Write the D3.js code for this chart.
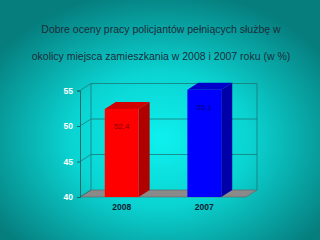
<!DOCTYPE html>
<html>
<head>
<meta charset="utf-8">
<script src="https://cdn.jsdelivr.net/npm/d3@7"></script>
<style>
  body { margin: 0; background: #008080; }
  svg { display: block; font-family: "Liberation Sans", Arial, sans-serif; }
</style>
</head>
<body>
<svg></svg>
<script>
var titleLines = ["Dobre oceny pracy policjantów pełniących służbę w",
  "okolicy miejsca zamieszkania w 2008 i 2007 roku (w %)"];
var categories = ["2008", "2007"];
var values = [52.4, 55.1];
var valueLabels = ["52,4", "55,1"];
var yTicks = [40, 45, 50, 55];
var frontColors = ["#ff0000", "#0000ff"];
var sideColors = ["#b00000", "#0000a8"];
var topColors = ["#d00000", "#0000c8"];
var labelColors = ["#880000", "#000088"];

var width = 320, height = 240;
var dx = 11, dy = -7;

var svg = d3.select("svg").attr("width", width).attr("height", height);

var defs = svg.append("defs");
var grad = defs.append("radialGradient").attr("id", "bg")
  .attr("cx", "50%").attr("cy", "58%").attr("r", "62%");
grad.append("stop").attr("offset", "0%").attr("stop-color", "#0ef0ee");
grad.append("stop").attr("offset", "45%").attr("stop-color", "#0ad4d2");
grad.append("stop").attr("offset", "100%").attr("stop-color", "#067e7e");
svg.append("rect").attr("width", width).attr("height", height).attr("fill", "url(#bg)");

svg.selectAll("text.title").data(titleLines).enter().append("text")
  .attr("class", "title")
  .attr("x", 161).attr("y", (d, i) => 33 + i * 27)
  .attr("text-anchor", "middle")
  .attr("font-size", 10.5)
  .attr("fill", "#1c2c3a")
  .text(d => d);

var x = d3.scaleBand().domain(categories).range([80, 246]).paddingInner(0.59).paddingOuter(0.3);
var y = d3.scaleLinear().domain([40, 55]).range([197, 90.5]);

var x0 = 80, x1 = 246;

// floor
svg.append("path")
  .attr("d", `M${x0},${y(40)}L${x1},${y(40)}L${x1 + dx},${y(40) + dy}L${x0 + dx},${y(40) + dy}Z`)
  .attr("fill", "#8a8a8a").attr("stroke", "#606060").attr("stroke-width", 0.6);

// back wall gridlines
var grid = svg.append("g").attr("stroke", "#1a7a7a").attr("stroke-width", 0.8).attr("fill", "none");
grid.selectAll("line.h").data(yTicks.slice(1)).enter().append("line")
  .attr("x1", x0 + dx).attr("x2", x1 + dx)
  .attr("y1", d => y(d) + dy).attr("y2", d => y(d) + dy);
grid.selectAll("line.d").data(yTicks).enter().append("line")
  .attr("x1", x0).attr("x2", x0 + dx)
  .attr("y1", d => y(d)).attr("y2", d => y(d) + dy);
grid.append("line").attr("x1", x0 + dx).attr("x2", x0 + dx).attr("y1", y(55) + dy).attr("y2", y(40) + dy);
grid.append("line").attr("x1", x1 + dx).attr("x2", x1 + dx).attr("y1", y(55) + dy).attr("y2", y(40) + dy);

// y axis
var yAxis = svg.append("g").attr("transform", "translate(" + x0 + ",0)")
  .call(d3.axisLeft(y).tickValues(yTicks).tickSize(3).tickPadding(4));
yAxis.select(".domain").attr("stroke", "#1a6a6a");
yAxis.selectAll(".tick line").attr("stroke", "#1a6a6a");
yAxis.selectAll("text").attr("fill", "#ffffff").attr("font-size", 8.5).attr("font-weight", "bold")
  .attr("font-family", "Liberation Sans, Arial, sans-serif");

// bars
var bars = svg.selectAll("g.bar").data(categories).enter().append("g").attr("class", "bar");
bars.append("path")
  .attr("d", (d, i) => {
    var bx = x(d) + x.bandwidth(), t = y(values[i]), b = y(40);
    return `M${bx},${t}L${bx + dx},${t + dy}L${bx + dx},${b + dy}L${bx},${b}Z`;
  })
  .attr("fill", (d, i) => sideColors[i]);
bars.append("path")
  .attr("d", (d, i) => {
    var bx = x(d), w = x.bandwidth(), t = y(values[i]);
    return `M${bx},${t}L${bx + dx},${t + dy}L${bx + w + dx},${t + dy}L${bx + w},${t}Z`;
  })
  .attr("fill", (d, i) => topColors[i]);
bars.append("rect")
  .attr("x", d => x(d)).attr("width", x.bandwidth())
  .attr("y", (d, i) => y(values[i])).attr("height", (d, i) => y(40) - y(values[i]))
  .attr("fill", (d, i) => frontColors[i]);
bars.append("text")
  .attr("x", d => x(d) + x.bandwidth() / 2)
  .attr("y", (d, i) => y(values[i]) + 20)
  .attr("text-anchor", "middle").attr("font-size", 8)
  .attr("fill", (d, i) => labelColors[i])
  .text((d, i) => valueLabels[i]);

// category labels
svg.selectAll("text.cat").data(categories).enter().append("text")
  .attr("class", "cat")
  .attr("x", d => x(d) + x.bandwidth() / 2)
  .attr("y", 210)
  .attr("text-anchor", "middle").attr("font-size", 8.5).attr("font-weight", "bold")
  .attr("fill", "#102030")
  .text(d => d);
</script>
</body>
</html>
